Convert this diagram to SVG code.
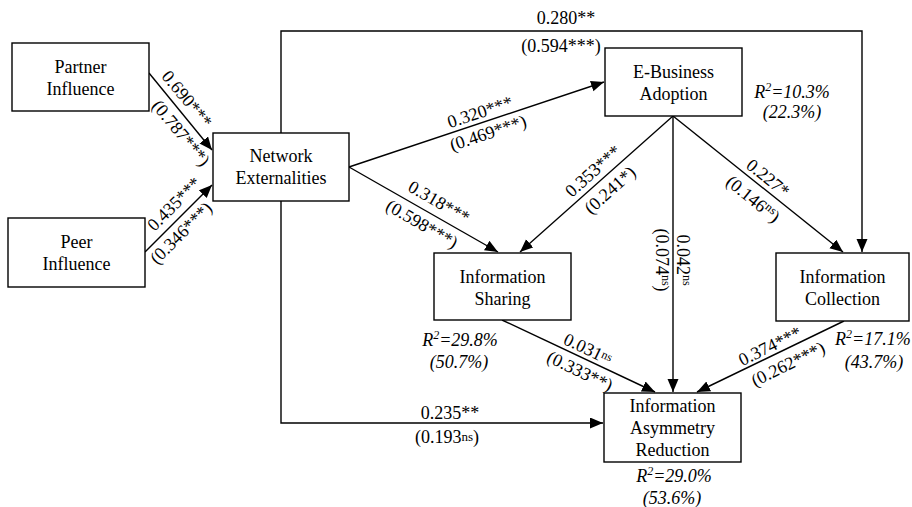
<svg xmlns="http://www.w3.org/2000/svg" width="912" height="507" viewBox="0 0 912 507">
<style>
  .box{fill:#fff;stroke:#000;stroke-width:1.4}
  .n,.l,.r{font-size:18px;fill:#000;text-anchor:middle}
  .r{font-style:italic}
  .e{fill:none;stroke:#000;stroke-width:1.4}
</style>
<defs>
  <marker id="ah" markerUnits="userSpaceOnUse" markerWidth="14" markerHeight="12" refX="13" refY="5.5" orient="auto">
    <path d="M0,0 L13,5.5 L0,11 Z" fill="#000"/>
  </marker>
</defs>
<rect width="912" height="507" fill="#fff"/>
<g id="connectors">
  <path class="e" d="M281,133 L281,31 L862,31 L862,252" marker-end="url(#ah)"/>
  <path class="e" d="M281,201 L281,423 L603,423" marker-end="url(#ah)"/>
  <line class="e" x1="149" y1="73" x2="212" y2="150" marker-end="url(#ah)"/>
  <line class="e" x1="145" y1="252" x2="212" y2="185" marker-end="url(#ah)"/>
  <line class="e" x1="349" y1="167" x2="604" y2="82" marker-end="url(#ah)"/>
  <line class="e" x1="349" y1="167" x2="498" y2="252" marker-end="url(#ah)"/>
  <line class="e" x1="673" y1="116" x2="520" y2="252" marker-end="url(#ah)"/>
  <line class="e" x1="673" y1="116" x2="673" y2="392" marker-end="url(#ah)"/>
  <line class="e" x1="673" y1="116" x2="843" y2="252" marker-end="url(#ah)"/>
  <line class="e" x1="502" y1="320" x2="655" y2="392" marker-end="url(#ah)"/>
  <line class="e" x1="844" y1="321" x2="697" y2="392" marker-end="url(#ah)"/>
</g>
<g font-family="Liberation Serif, Times New Roman, Times, serif">
<g id="edge-labels">
  <text class="l" x="566" y="24">0.280**</text>
  <text class="l" x="561" y="52">(0.594***)</text>
  <g transform="translate(187,99) rotate(50.3)"><text class="l" y="6">0.690***</text></g>
  <g transform="translate(181,133) rotate(50.3)"><text class="l" y="6">(0.787***)</text></g>
  <g transform="translate(174,204) rotate(-45)"><text class="l" y="6">0.435***</text></g>
  <g transform="translate(181,233) rotate(-45)"><text class="l" y="6">(0.346***)</text></g>
  <g transform="translate(480,112) rotate(-18.4)"><text class="l" y="6">0.320***</text></g>
  <g transform="translate(488,133) rotate(-18.4)"><text class="l" y="6">(0.469***)</text></g>
  <g transform="translate(439,202) rotate(30)"><text class="l" y="6">0.318***</text></g>
  <g transform="translate(422,224) rotate(30)"><text class="l" y="6">(0.598***)</text></g>
  <g transform="translate(593,171) rotate(-41.8)"><text class="l" y="6">0.353***</text></g>
  <g transform="translate(610,190) rotate(-41.8)"><text class="l" y="6">(0.241*)</text></g>
  <g transform="translate(683,260) rotate(90)"><text class="l" y="6">0.042<tspan font-size="12" dy="-6">ns</tspan></text></g>
  <g transform="translate(662,260) rotate(90)"><text class="l" y="6">(0.074<tspan font-size="12" dy="-6">ns</tspan><tspan dy="6">)</tspan></text></g>
  <g transform="translate(768,178) rotate(38.9)"><text class="l" y="6">0.227*</text></g>
  <g transform="translate(753,199) rotate(38.9)"><text class="l" y="6">(0.146<tspan font-size="12" dy="-6">ns</tspan><tspan dy="6">)</tspan></text></g>
  <g transform="translate(588,349) rotate(25.5)"><text class="l" y="6">0.031<tspan font-size="12" dy="-4">ns</tspan></text></g>
  <g transform="translate(580,371) rotate(25.5)"><text class="l" y="6">(0.333**)</text></g>
  <g transform="translate(770,346) rotate(-26.1)"><text class="l" y="6">0.374***</text></g>
  <g transform="translate(788,364) rotate(-26.1)"><text class="l" y="6">(0.262***)</text></g>
  <text class="l" x="450" y="419">0.235**</text>
  <text class="l" x="447" y="443">(0.193<tspan font-size="13" dy="-2">ns</tspan><tspan dy="2">)</tspan></text>
</g>
<g id="partner-influence">
  <rect class="box" x="12" y="43" width="137" height="68"/>
  <text class="n" x="80.5" y="73">Partner</text>
  <text class="n" x="80.5" y="95">Influence</text>
</g>
<g id="peer-influence">
  <rect class="box" x="8" y="218" width="137" height="69"/>
  <text class="n" x="76.5" y="248">Peer</text>
  <text class="n" x="76.5" y="270">Influence</text>
</g>
<g id="network-externalities">
  <rect class="box" x="213" y="133" width="136" height="68"/>
  <text class="n" x="281" y="162">Network</text>
  <text class="n" x="281" y="184">Externalities</text>
</g>
<g id="e-business-adoption">
  <rect class="box" x="605" y="48" width="137" height="68"/>
  <text class="n" x="673.5" y="78">E-Business</text>
  <text class="n" x="673.5" y="100">Adoption</text>
  <text class="r" x="792" y="98">R<tspan font-size="12" dy="-7">2</tspan><tspan dy="7">=10.3%</tspan></text>
  <text class="r" x="792" y="118">(22.3%)</text>
</g>
<g id="information-sharing">
  <rect class="box" x="434" y="253" width="137" height="67"/>
  <text class="n" x="502.5" y="283">Information</text>
  <text class="n" x="502.5" y="305">Sharing</text>
  <text class="r" x="460" y="346">R<tspan font-size="12" dy="-7">2</tspan><tspan dy="7">=29.8%</tspan></text>
  <text class="r" x="459" y="368">(50.7%)</text>
</g>
<g id="information-collection">
  <rect class="box" x="776" y="253" width="133" height="68"/>
  <text class="n" x="842.5" y="283">Information</text>
  <text class="n" x="842.5" y="305">Collection</text>
  <text class="r" x="835" y="345" style="text-anchor:start">R<tspan font-size="12" dy="-7">2</tspan><tspan dy="7">=17.1%</tspan></text>
  <text class="r" x="874" y="368">(43.7%)</text>
</g>
<g id="information-asymmetry-reduction">
  <rect class="box" x="604" y="393" width="137" height="69"/>
  <text class="n" x="672.5" y="412">Information</text>
  <text class="n" x="672.5" y="434">Asymmetry</text>
  <text class="n" x="672.5" y="456">Reduction</text>
  <text class="r" x="674" y="482">R<tspan font-size="12" dy="-7">2</tspan><tspan dy="7">=29.0%</tspan></text>
  <text class="r" x="672" y="504">(53.6%)</text>
</g>
</g>
</svg>
